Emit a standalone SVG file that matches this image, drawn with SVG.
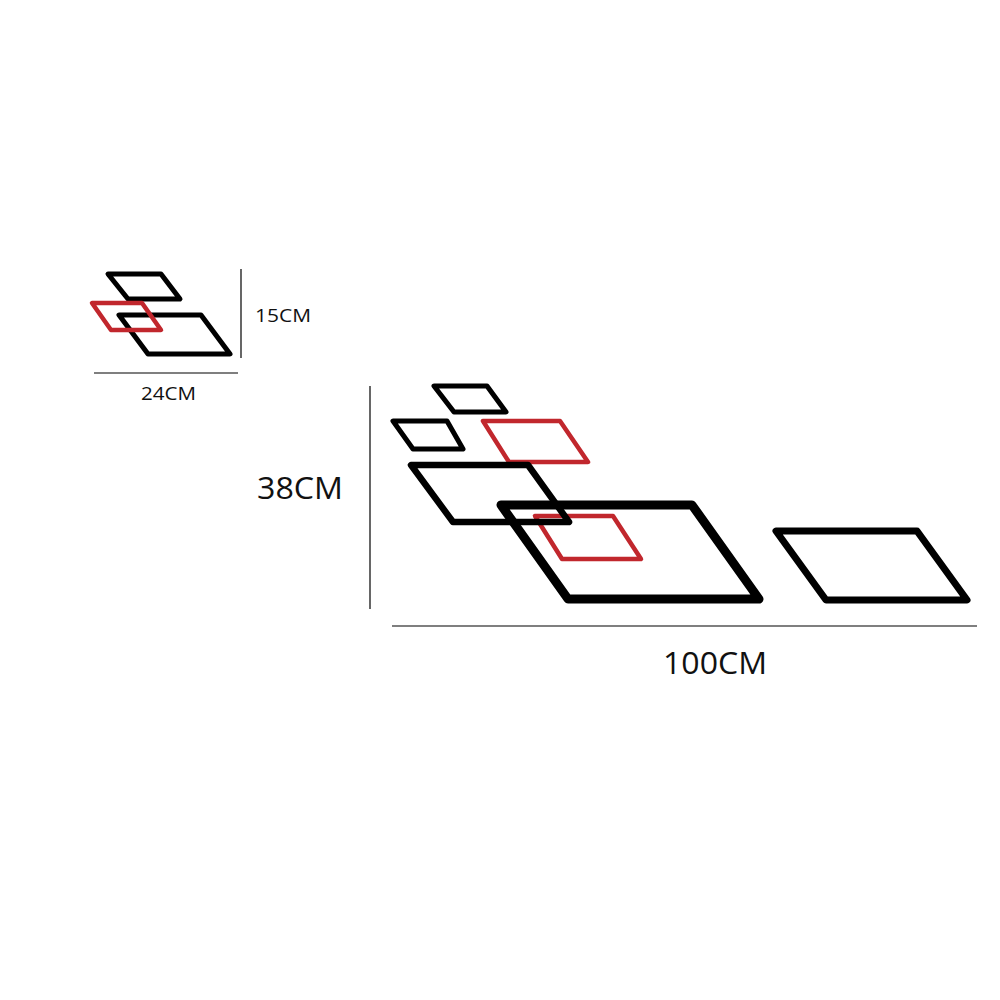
<svg xmlns="http://www.w3.org/2000/svg" width="1000" height="1000" viewBox="0 0 1000 1000">
<style>
.k{fill:none;stroke:#000;stroke-linejoin:round;stroke-linecap:round}
.r{fill:none;stroke:#c1272d;stroke-linejoin:round;stroke-linecap:round}
.dim{stroke:#000;stroke-width:1.2}
text{font-family:"Open Sans","Noto Sans","Liberation Sans",sans-serif;fill:#111}
</style>
<rect width="1000" height="1000" fill="#fff"/>
<g id="small-set">
<polygon class="k" stroke-width="5" points="108,274 161,274 180,299 128,299"/>
<polygon class="k" stroke-width="5" points="119,315 201,315 230,354 148,354"/>
<polygon class="r" stroke-width="4.5" points="92,303 142,303 161,330 111,330"/>
</g>
<g id="small-dims">
<line class="dim" x1="241" y1="269" x2="241" y2="358"/>
<line class="dim" x1="94" y1="373" x2="238" y2="373"/>
<text x="255" y="322" font-size="19" textLength="56" lengthAdjust="spacingAndGlyphs">15CM</text>
<text x="141" y="400" font-size="19" textLength="55" lengthAdjust="spacingAndGlyphs">24CM</text>
</g>
<g id="large-set">
<polygon class="k" stroke-width="5" points="434,386 487,386 506,412 454,412"/>
<polygon class="k" stroke-width="5" points="393,421 447,421 463,449 413,449"/>
<polygon class="r" stroke-width="4.5" points="483,421 560,421 588,462 509,462"/>
<polygon class="r" stroke-width="4.5" points="535,516 613,516 641,559 562,559"/>
<polygon class="k" stroke-width="6.5" points="411,465 528,465 569,522 453,522"/>
<polygon class="k" stroke-width="9" points="501,505 692,505 759,599 568,599"/>
<polygon class="k" stroke-width="7" points="776,531 917,531 967,600 826,600"/>
</g>
<g id="large-dims">
<line class="dim" x1="370" y1="386" x2="370" y2="609"/>
<line class="dim" x1="392" y1="626" x2="977" y2="626"/>
<text x="257" y="499" font-size="31" textLength="86" lengthAdjust="spacingAndGlyphs">38CM</text>
<text x="663" y="674" font-size="31" textLength="104" lengthAdjust="spacingAndGlyphs">100CM</text>
</g>
</svg>
